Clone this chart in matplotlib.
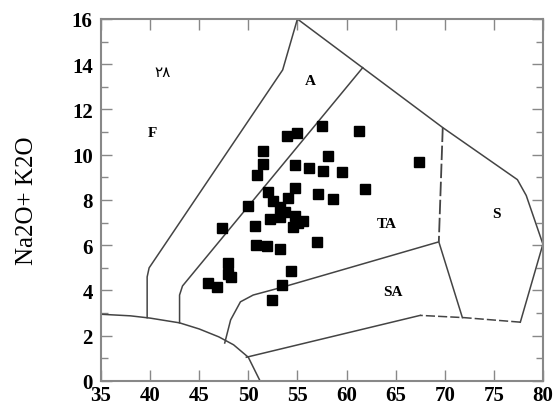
import matplotlib
matplotlib.use("Agg")
import matplotlib.pyplot as plt
from matplotlib.ticker import MultipleLocator

# sample points: SiO2 vs Na2O+K2O
sio2 = [57.5, 61.3, 53.9, 55.0, 51.5, 51.5, 50.9, 58.1, 54.75, 56.2,
        57.6, 59.5, 54.75, 57.1, 58.6, 61.9, 67.4, 50.0, 47.3, 50.7,
        50.8, 51.9, 53.2, 47.9, 47.9, 48.2, 45.9, 46.8, 54.3, 53.4,
        52.4, 52.0, 52.5, 53.2, 53.7, 52.2, 53.2, 54.0, 54.75, 55.05,
        54.55, 55.6, 57.0]
alk = [11.25, 11.05, 10.85, 10.95, 10.15, 9.6, 9.1, 9.95, 9.55, 9.4,
       9.3, 9.25, 8.55, 8.25, 8.05, 8.5, 9.7, 7.75, 6.75, 6.85,
       6.0, 5.95, 5.85, 5.2, 4.75, 4.6, 4.35, 4.15, 4.85, 4.25,
       3.6, 8.35, 7.95, 7.7, 7.45, 7.15, 7.25, 8.1, 7.3, 7.0,
       6.8, 7.05, 6.15]

# field boundaries
curve_x = [35, 38, 40, 43, 45, 47, 48.5, 50, 51.2]
curve_y = [2.95, 2.88, 2.78, 2.57, 2.3, 1.95, 1.6, 1.05, 0]
fa_x = [39.7, 39.7, 39.9, 53.5, 55]
fa_y = [2.8, 4.6, 5.0, 13.75, 16]
ata_x = [43, 43, 43.3, 61.65]
ata_y = [2.57, 3.8, 4.2, 13.85]
outer_x = [55, 69.8, 77.4, 78.3, 80, 77.7]
outer_y = [16, 11.2, 8.9, 8.2, 6.05, 2.6]
base_dash_x = [77.7, 72, 67.5]
base_dash_y = [2.6, 2.8, 2.9]
base_x = [67.5, 49.8]
base_y = [2.9, 1.05]
tas_x = [69.8, 69.4]
tas_y = [11.2, 6.15]
tasa_x = [47.6, 48.2, 49.2, 50.5, 53.5, 69.4, 71.8]
tasa_y = [1.68, 2.7, 3.5, 3.8, 4.15, 6.15, 2.8]

labels = ["F", "A", "TA", "SA", "S"]
label_x = [40.2, 56.3, 64.1, 64.7, 75.3]
label_y = [11.0, 13.3, 6.95, 3.95, 7.4]

fig = plt.figure(figsize=(5.54, 4.14), dpi=100)
ax = fig.add_axes([0.1823, 0.0773, 0.7977, 0.8744])

lc = "#444444"
for xs, ys in [(curve_x, curve_y), (fa_x, fa_y), (ata_x, ata_y),
               (outer_x, outer_y), (base_x, base_y), (tasa_x, tasa_y)]:
    ax.plot(xs, ys, color=lc, lw=1.1)
ax.plot(base_dash_x, base_dash_y, color=lc, lw=1.1, ls=(0, (6, 2)))
ax.plot(tas_x, tas_y, color=lc, lw=1.3, ls=(0, (8, 2)))

ax.plot(sio2, alk, "s", color="black", ms=7, mec="black")

for t, x, y in zip(labels, label_x, label_y):
    ax.text(x, y, t, family="Liberation Serif", fontsize=11,
            fontweight="bold", ha="center", va="center")
ax.text(41.3, 13.7, "۲۸", family="DejaVu Sans", fontsize=11,
        ha="center", va="center")

ax.set_xlim(35, 80)
ax.set_ylim(0, 16)
ax.xaxis.set_major_locator(MultipleLocator(5))
ax.yaxis.set_major_locator(MultipleLocator(2))
ax.yaxis.set_minor_locator(MultipleLocator(1))
ax.tick_params(axis="both", which="major", direction="in", length=8,
               width=1, color="#888888", top=True, right=True)
ax.tick_params(axis="y", which="minor", direction="in", length=5,
               width=1, color="#888888", right=True)
for lab in ax.get_xticklabels() + ax.get_yticklabels():
    lab.set_family("Liberation Serif")
    lab.set_fontweight("bold")
    lab.set_fontsize(15)
ax.tick_params(axis="x", pad=3)
ax.tick_params(axis="y", pad=6)
for s in ax.spines.values():
    s.set_color("#888888")
    s.set_linewidth(1.5)

ax.set_ylabel("Na2O+ K2O", family="Liberation Serif", fontsize=18,
              labelpad=24)

fig.savefig("out.png", dpi=100)
